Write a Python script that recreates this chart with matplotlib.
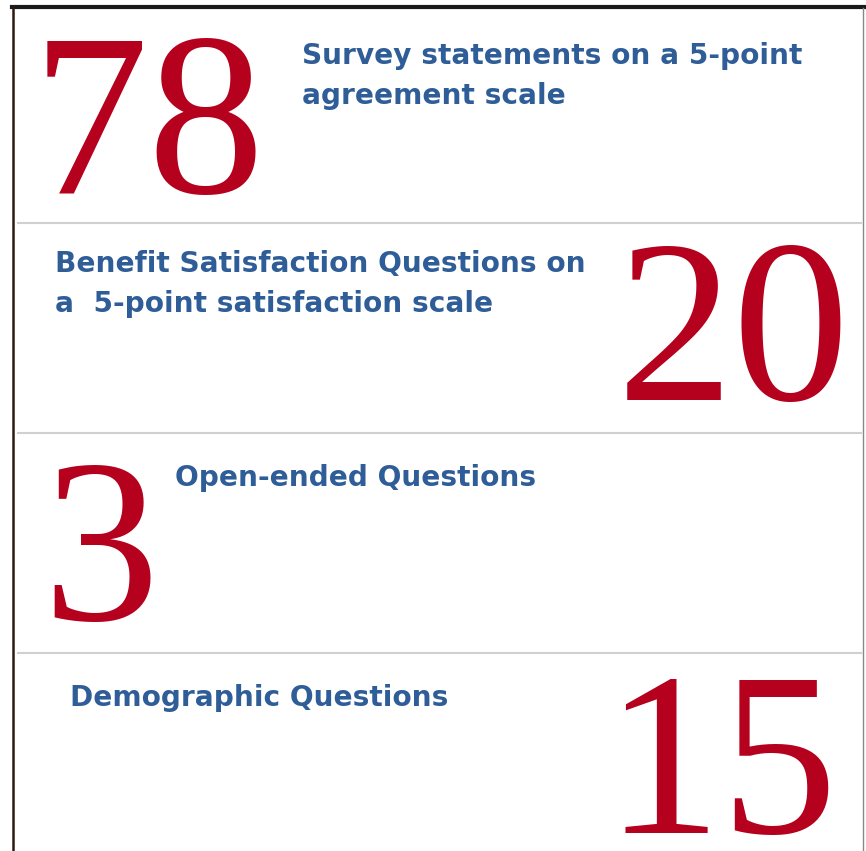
import matplotlib.pyplot as plt
from matplotlib.lines import Line2D

numbers = ['78', '20', '3', '15']
labels = [
    ['Survey statements on a 5-point', 'agreement scale'],
    ['Benefit Satisfaction Questions on', 'a  5-point satisfaction scale'],
    ['Open-ended Questions'],
    ['Demographic Questions'],
]

red = '#B5001E'
blue = '#2F5D98'

W, H = 866, 851
fig = plt.figure(figsize=(W / 100, H / 100), dpi=100)
ax = fig.add_axes([0, 0, 1, 1])
ax.set_xlim(0, W)
ax.set_ylim(H, 0)
ax.axis('off')

# number x, baseline, alignment; label x, first baseline
num_pos = [(32, 193, 'left'), (850, 400, 'right'), (42, 620, 'left'), (838, 833, 'right')]
lab_pos = [(302, 64), (55, 272), (175, 486), (70, 706)]
line_gap = 40

for n, (x, y, ha) in zip(numbers, num_pos):
    ax.text(x, y, n, color=red, fontsize=168, family='Liberation Serif',
            ha=ha, va='baseline')

for lines, (x, y) in zip(labels, lab_pos):
    for i, t in enumerate(lines):
        ax.text(x, y + i * line_gap, t, color=blue, fontsize=20.2,
                family='DejaVu Sans', weight='bold', ha='left', va='baseline')

# separators
for y in [223, 433, 653]:
    ax.add_line(Line2D([18, 861], [y, y], color='#d0d0d0', lw=1.5))

# frame
ax.add_line(Line2D([12, 866], [7, 7], color='#1a1a1a', lw=3))
ax.add_line(Line2D([13, 13], [6, 851], color='#2a1a10', lw=1.8))
ax.add_line(Line2D([863, 863], [8, 851], color='#888888', lw=1))

fig.savefig('out.png', dpi=100)
